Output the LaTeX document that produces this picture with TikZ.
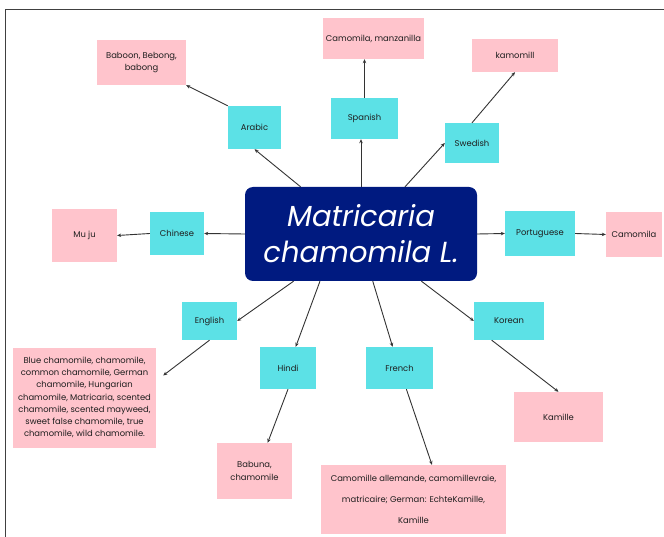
\documentclass[tikz,border=0pt]{standalone}
\usepackage{fontspec}
\setmainfont{Poppins}
\usepackage{tikz}
\usetikzlibrary{arrows.meta}
\definecolor{langcyan}{RGB}{92,225,230}
\definecolor{termpink}{RGB}{255,196,204}
\definecolor{rootblue}{RGB}{0,26,128}
\definecolor{inkgrey}{RGB}{30,30,30}
\tikzstyle{root}=[rectangle,rounded corners=8pt,fill=rootblue,text=white,align=center,inner sep=0pt,font=\itshape\fontsize{29}{36}\selectfont]
\tikzstyle{lang}=[rectangle,fill=langcyan,text=inkgrey,inner sep=0pt,font=\fontsize{8.4}{10}\selectfont]
\tikzstyle{term}=[rectangle,fill=termpink,text=inkgrey,align=center,inner sep=0pt,font=\fontsize{8.4}{12.2}\selectfont]
\tikzstyle{link}=[draw=black!80,line width=0.9pt,-{Stealth[length=4pt,width=3.5pt]}]

\begin{document}
\begin{tikzpicture}[x=1pt,y=-1pt]
  \useasboundingbox (0,0) rectangle (664,537);
  \draw [black!75,line width=1.2pt] (5.5,537) -- (5.5,9.5) -- (664,9.5);
  % centre
  \node at (361,234) [root,minimum width=232pt,minimum height=94pt] (Root) {Matricaria\\chamomila L.};
  % languages
  \node at (254.5,127.5) [lang,minimum width=53pt,minimum height=43pt] (Arabic) {Arabic};
  \node at (364.5,118.5) [lang,minimum width=67pt,minimum height=41pt] (Spanish) {Spanish};
  \node at (472,143) [lang,minimum width=54pt,minimum height=40pt] (Swedish) {Swedish};
  \node at (177,233.5) [lang,minimum width=54pt,minimum height=43pt] (Chinese) {Chinese};
  \node at (540,233.5) [lang,minimum width=70pt,minimum height=45pt] (Portuguese) {Portuguese};
  \node at (209.5,321) [lang,minimum width=55pt,minimum height=38pt] (English) {English};
  \node at (509,321) [lang,minimum width=70pt,minimum height=38pt] (Korean) {Korean};
  \node at (288,368) [lang,minimum width=56pt,minimum height=42pt] (Hindi) {Hindi};
  \node at (399.5,368) [lang,minimum width=67pt,minimum height=42pt] (French) {French};
  % common names
  \node at (141.5,62.5) [term,minimum width=89pt,minimum height=45pt] (Baboon) {Baboon, Bebong,\\babong};
  \node at (373.5,38.5) [term,minimum width=101pt,minimum height=41pt] (Manzanilla) {Camomila, manzanilla};
  \node at (515,55.5) [term,minimum width=86pt,minimum height=33pt] (Kamomill) {kamomill};
  \node at (84.5,235.5) [term,minimum width=65pt,minimum height=53pt] (MuJu) {Mu ju};
  \node at (634,234.5) [term,minimum width=56pt,minimum height=45pt] (CamomilaPt) {Camomila};
  \node at (84.5,397.5) [term,minimum width=143pt,minimum height=100pt] (BlueChamomile)
    {Blue chamomile, chamomile,\\common chamomile, German\\chamomile, Hungarian\\chamomile, Matricaria, scented\\chamomile, scented mayweed,\\sweet false chamomile, true\\chamomile, wild chamomile.};
  \node at (254.5,471) [term,minimum width=75pt,minimum height=56pt] (Babuna) {Babuna,\\chamomile};
  \node at (413.5,499.5) [term,minimum width=185pt,minimum height=69pt,font=\fontsize{8.4}{21}\selectfont] (Allemande)
    {Camomille allemande, camomillevraie,\\matricaire; German: EchteKamille,\\Kamille};
  \node at (558.5,417) [term,minimum width=89pt,minimum height=50pt] (Kamille) {Kamille};
  % links
  \draw [link] (Root.142) to (Arabic.south);
  \draw [link] (Root.north) to (Root.north |- Spanish.south);
  \draw [link] (Root.47) to (Swedish.west);
  \draw [link] (Arabic.north west) to (Baboon.south east);
  \draw [link] (Spanish.north) to (Spanish.north |- Manzanilla.south);
  \draw [link] (Swedish.north) to (Kamomill.south);
  \draw [link] (Root.west) to (Chinese.east);
  \draw [link] (Chinese.west) to (MuJu.east);
  \draw [link] (Root.east) to (Portuguese.west);
  \draw [link] (Portuguese.east) to (CamomilaPt.west);
  \draw [link] (Root.215) to (English.east);
  \draw [link] (English.south) to ([xshift=7pt,yshift=22pt]BlueChamomile.east);
  \draw [link] (Root.229) to (Hindi.70);
  \draw [link] (Hindi.south) to (Babuna.65);
  \draw [link] (Root.284) to (French.108);
  \draw [link] (French.288) to (Allemande.62);
  \draw [link] (Root.322) to (Korean.west);
  \draw [link] (Korean.228) to (Kamille.north);
\end{tikzpicture}
\end{document}
